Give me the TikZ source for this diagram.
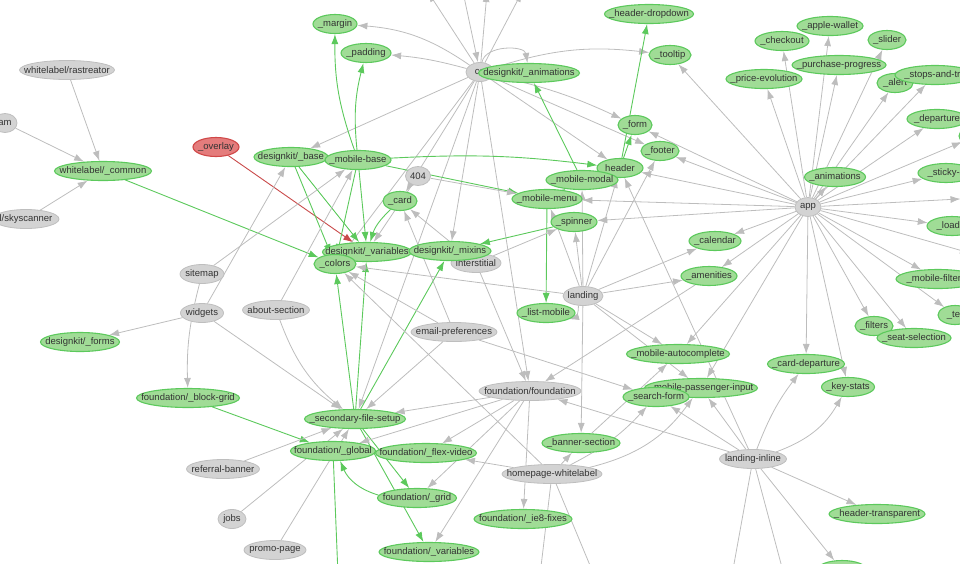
\documentclass[tikz,border=0pt]{standalone}
\usepackage{fontspec}
\setmainfont{Liberation Sans}
\usetikzlibrary{arrows.meta,shapes.geometric,backgrounds}
\definecolor{gfill}{HTML}{A0DC96}
\definecolor{gborder}{HTML}{5CC95C}
\definecolor{gline}{HTML}{5CC95C}
\definecolor{cfill}{HTML}{D3D3D3}
\definecolor{cborder}{HTML}{BEBEBE}
\definecolor{cline}{HTML}{BDBDBD}
\definecolor{rfill}{HTML}{E47C7C}
\definecolor{rborder}{HTML}{D04848}
\definecolor{rline}{HTML}{C94A4A}
\definecolor{txt}{HTML}{333333}
\tikzset{
  nd/.style={ellipse,inner xsep=-30pt,inner ysep=0pt,minimum height=19pt,minimum width=#1,text=txt,font=\fontsize{9.5}{11}\selectfont},
  gn/.style={nd=#1,draw=gborder,fill=gfill,line width=1.1pt},
  cn/.style={nd=#1,draw=cborder,fill=cfill,line width=0.8pt},
  rn/.style={nd=#1,draw=rborder,fill=rfill,line width=1.1pt},
  ce/.style={cline,line width=0.8pt,-{Latex[length=10pt,width=7pt]}},
  ge/.style={gline,line width=0.9pt,-{Latex[length=10pt,width=7pt]}},
  re/.style={rline,line width=0.9pt,-{Latex[length=10pt,width=7pt]}}
}
\begin{document}
\begin{tikzpicture}[x=1pt,y=1pt]
\useasboundingbox (0,0) rectangle (960,-563);
\node[cn=95] (rastreator) at (67,-70) {whitelabel/rastreator};
\node[cn=24] (am) at (5,-123) {am};
\node[cn=66] (skyscanner) at (26,-219) {l/skyscanner};
\node[gn=97] (wcommon) at (103,-171) {whitelabel/\_common};
\node[rn=46] (overlay) at (216,-147) {\_overlay};
\node[gn=74] (dbase) at (291,-157) {designkit/\_base};
\node[gn=66] (mbase) at (358,-160) {\_mobile-base};
\node[gn=44] (margin) at (335,-24) {\_margin};
\node[gn=50] (padding) at (366,-53) {\_padding};
\node[cn=28] (co) at (480,-72) {co};
\node[gn=101] (danim) at (529,-73) {designkit/\_animations};
\node[gn=89] (hdrop) at (649,-14) {\_header-dropdown};
\node[gn=42] (tooltip) at (670,-55) {\_tooltip};
\node[gn=54] (checkout) at (782,-41) {\_checkout};
\node[gn=66] (applew) at (830,-26) {\_apple-wallet};
\node[gn=38] (slider) at (887,-40) {\_slider};
\node[gn=94] (pprog) at (839,-65) {\_purchase-progress};
\node[gn=76] (pevo) at (764,-79) {\_price-evolution};
\node[gn=36] (alert) at (895,-83) {\_alert};
\node[gn=80] (stops) at (935,-75) {\_stops-and-tra};
\node[gn=60] (departure) at (937,-119) {\_departure};
\node[gn=34] (rA) at (976,-136) {};
\node[gn=34] (form) at (635,-125) {\_form};
\node[gn=38] (footer) at (660,-151) {\_footer};
\node[gn=46] (header) at (620,-168) {header};
\node[cn=25] (n404) at (418,-176) {404};
\node[gn=72] (mmodal) at (582,-180) {\_mobile-modal};
\node[gn=70] (mmenu) at (547,-199) {\_mobile-menu};
\node[gn=34] (card) at (400,-201) {\_card};
\node[gn=46] (spinner) at (574,-222) {\_spinner};
\node[gn=61] (animations) at (835,-177) {\_animations};
\node[cn=26] (app) at (808,-207) {app};
\node[gn=56] (sticky) at (946,-173) {\_sticky-s};
\node[gn=34] (rB) at (978,-198) {};
\node[gn=50] (loadin) at (952,-226) {\_loadin};
\node[gn=89] (dvars) at (367,-252) {designkit/\_variables};
\node[gn=42] (colors) at (335,-264) {\_colors};
\node[cn=50] (interstitial) at (476,-263) {interstitial};
\node[gn=82] (dmixins) at (450,-251) {designkit/\_mixins};
\node[gn=52] (calendar) at (715,-241) {\_calendar};
\node[gn=56] (amenities) at (709,-276) {\_amenities};
\node[cn=44] (sitemap) at (202,-274) {sitemap};
\node[cn=40] (landing) at (583,-296) {landing};
\node[gn=58] (listm) at (546,-313) {\_list-mobile};
\node[gn=84] (mfilter) at (938,-279) {\_mobile-filter-b};
\node[gn=34] (ter) at (955,-315) {\_ter};
\node[cn=43] (widgets) at (202,-313) {widgets};
\node[cn=67] (about) at (276,-310) {about-section};
\node[cn=86] (email) at (454,-332) {email-preferences};
\node[gn=38] (filters) at (874,-326) {\_filters};
\node[gn=74] (seat) at (914,-338) {\_seat-selection};
\node[gn=79] (dforms) at (80,-342) {designkit/\_forms};
\node[gn=103] (mauto) at (678,-354) {\_mobile-autocomplete};
\node[gn=77] (carddep) at (806,-364) {\_card-departure};
\node[cn=102] (ffound) at (530,-391) {foundation/foundation};
\node[gn=113] (mpass) at (701,-388) {\_mobile-passenger-input};
\node[gn=66] (search) at (656,-397) {\_search-form};
\node[gn=53] (keystats) at (848,-387) {\_key-stats};
\node[gn=103] (fblock) at (188,-398) {foundation/\_block-grid};
\node[gn=101] (sfs) at (355,-419) {\_secondary-file-setup};
\node[gn=85] (fglobal) at (333,-451) {foundation/\_global};
\node[gn=101] (fflex) at (426,-453) {foundation/\_flex-video};
\node[gn=78] (banner) at (581,-443) {\_banner-section};
\node[cn=67] (linline) at (753,-459) {landing-inline};
\node[cn=73] (referral) at (223,-469) {referral-banner};
\node[cn=100] (hpw) at (552,-474) {homepage-whitelabel};
\node[gn=79] (fgrid) at (417,-498) {foundation/\_grid};
\node[gn=96] (hdrtrans) at (877,-514) {\_header-transparent};
\node[cn=28] (jobs) at (232,-519) {jobs};
\node[gn=98] (fie8) at (523,-519) {foundation/\_ie8-fixes};
\node[cn=62] (promo) at (275,-550) {promo-page};
\node[gn=100] (fvars) at (429,-552) {foundation/\_variables};
\node[gn=50] (bnode) at (842,-570) {};
\coordinate (t1) at (428,8);
\coordinate (t2) at (463,8);
\coordinate (t3) at (487,8);
\coordinate (t4) at (522,8);
\coordinate (r3) at (970,-253);
\coordinate (b1) at (338,-575);
\coordinate (b2) at (540,-575);
\coordinate (b3) at (594,-575);
\coordinate (b4) at (732,-575);
\coordinate (b5) at (784,-575);
\begin{scope}[on background layer]
\draw[ce] (rastreator) -- (wcommon);
\draw[ce] (am) -- (wcommon);
\draw[ce] (skyscanner) -- (wcommon);
\draw[ge] (wcommon) -- (colors);
\draw[re] (overlay) -- (dvars);
\draw[ce] (co) -- (t1);
\draw[ce] (t2) -- (co);
\draw[ce] (co) -- (t3);
\draw[ce] (co) -- (t4);
\draw[ce] (co) to[bend right=15] (margin);
\draw[ce] (co) to[bend right=5] (padding);
\draw[ce] (co) -- (dbase);
\draw[ce] (co) to[bend left=80] (danim);
\draw[ce] (co) to[bend left=12] (tooltip);
\draw[ce] (co) to[bend left=6] (form);
\draw[ce] (co) -- (header);
\draw[ce] (co) -- (footer);
\draw[ce] (co) -- (card);
\draw[ce] (co) -- (colors);
\draw[ce] (co) -- (dmixins);
\draw[ce] (co) -- (ffound);
\draw[ce] (co) -- (sfs);
\draw[ge] (mbase) to[bend left=10] (margin);
\draw[ge] (mbase) to[bend left=10] (padding);
\draw[ge] (mbase) to[bend left=5] (header);
\draw[ge] (mbase) -- (mmenu);
\draw[ge] (mbase) -- (dvars);
\draw[ge] (mbase) -- (colors);
\draw[ge] (dbase) -- (colors);
\draw[ge] (dbase) -- (dvars);
\draw[ge] (card) to[bend right=15] (dvars);
\draw[ge] (mmodal) -- (danim);
\draw[ge] (header) -- (hdrop);
\draw[ge] (header) -- (form);
\draw[ge] (mmenu) -- (mmodal);
\draw[ge] (mmenu) -- (listm);
\draw[ge] (spinner) -- (dmixins);
\draw[ge] (sfs) -- (colors);
\draw[ge] (sfs) -- (dvars);
\draw[ge] (sfs) -- (dmixins);
\draw[ge] (sfs) -- (fgrid);
\draw[ge] (sfs) -- (fvars);
\draw[ge] (fblock) -- (fglobal);
\draw[ge] (fgrid) to[bend left=25] (fglobal);
\draw[ge] (fglobal) -- (b1);
\draw[ce] (n404) -- (mmenu);
\draw[ce] (n404) -- (dvars);
\draw[ce] (sitemap) to[bend right=8] (fblock);
\draw[ce] (sitemap) -- (mbase);
\draw[ce] (widgets) -- (dforms);
\draw[ce] (widgets) -- (dbase);
\draw[ce] (widgets) -- (sfs);
\draw[ce] (about) to[bend right=15] (sfs);
\draw[ce] (about) -- (mbase);
\draw[ce] (email) -- (colors);
\draw[ce] (email) -- (card);
\draw[ce] (email) -- (search);
\draw[ce] (email) -- (sfs);
\draw[ce] (interstitial) -- (card);
\draw[ce] (interstitial) -- (ffound);
\draw[ce] (interstitial) -- (spinner);
\draw[ce] (landing) to[bend left=40] (listm);
\foreach \t in {spinner,mmenu,mmodal,header,footer,colors,calendar,amenities,mauto,mpass,banner}
  \draw[ce] (landing) -- (\t);
\foreach \t in {tooltip,pevo,checkout,applew,pprog,slider,alert,stops,departure,rA,sticky,rB,loadin,r3,mfilter,ter,filters,seat,carddep,keystats,calendar,amenities,mauto,mpass,form,footer,header,mmenu,spinner,animations}
  \draw[ce] (app) -- (\t);
\foreach \t in {fflex,fgrid,fvars,fie8,fglobal,sfs}
  \draw[ce] (ffound) -- (\t);
\draw[ce] (amenities) -- (ffound);
\draw[ce] (linline) -- (ffound);
\draw[ce] (linline) -- (search);
\draw[ce] (linline) -- (mpass);
\draw[ce] (linline) -- (header);
\draw[ce] (linline) to[bend left=8] (carddep);
\draw[ce] (linline) to[bend right=20] (keystats);
\draw[ce] (linline) -- (hdrtrans);
\draw[ce] (linline) -- (bnode);
\draw[ce] (linline) -- (b4);
\draw[ce] (linline) -- (b5);
\draw[ce] (hpw) -- (banner);
\draw[ce] (hpw) to[bend right=10] (search);
\draw[ce] (hpw) to[bend right=20] (mpass);
\draw[ce] (hpw) -- (fflex);
\draw[ce] (hpw) -- (colors);
\draw[ce] (hpw) -- (b2);
\draw[ce] (hpw) -- (b3);
\draw[ce] (banner) -- (mauto);
\draw[ce] (referral) -- (sfs);
\draw[ce] (jobs) -- (sfs);
\draw[ce] (promo) -- (sfs);
\end{scope}
\end{tikzpicture}
\end{document}
